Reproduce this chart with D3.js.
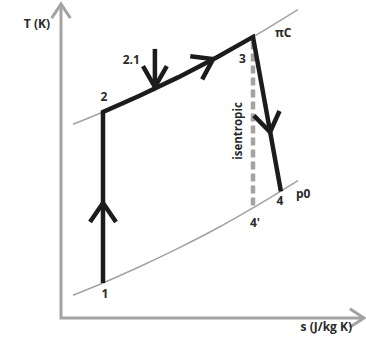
<!DOCTYPE html>
<html>
<head>
<meta charset="utf-8">
<script src="https://cdn.jsdelivr.net/npm/d3@7"></script>
<style>
  html, body { margin: 0; padding: 0; background: #fff; }
  svg { display: block; }
  text { font-family: "Open Sans", "DejaVu Sans", sans-serif; font-weight: 700; fill: #2a2a2a; }
</style>
</head>
<body>
<svg id="chart" width="366" height="340"></svg>
<script>
// Entropy samples shared by the two isobars (arbitrary units)
const isobarS = [4, 14, 26, 39, 52, 64, 79];
// Temperature along the high-pressure isobar (πC) and the ambient isobar (p0)
const isobarHighT = [64.6, 68.7, 74.0, 80.2, 86.9, 93.7, 102.8];
const isobarLowT  = [7.6, 11.7, 17.0, 23.2, 29.9, 36.7, 45.8];

// Cycle states
const stateNames = ["1", "2", "3", "4", "4'"];
const stateS = [14, 14, 64, 73.3, 64];
const stateT = [11.7, 68.7, 93.7, 42.2, 36.7];

// Heat input arrow (2.1): entropy, start and end temperature
const heatS = 31.3;
const heatT = [89.7, 77.0];

// Direction arrows on the process lines (tip positions)
const flowS = [14, 50.7, 69.7];
const flowT = [38.3, 86.3, 62.0];

// Axis titles and isobar labels
const axisTitles = ["T (K)", "s (J/kg K)"];
const isobarNames = ["πC", "p0"];
const isentropeName = "isentropic";

const svg = d3.select("#chart");
const x = d3.scaleLinear().domain([0, 100]).range([61, 361]);
const y = d3.scaleLinear().domain([0, 100]).range([318, 18]);

const grey = "#a3a3a3";
const ink = "#1c1c1c";

const st = stateNames.map((n, i) => ({ name: n, s: stateS[i], T: stateT[i] }));
const byName = Object.fromEntries(st.map(d => [d.name, d]));

// Open chevron with its tip at (px,py), pointing along angle ang
function chevron(px, py, ang, len, half) {
  const a1 = ang + Math.PI - half, a2 = ang + Math.PI + half;
  return `M${px + len * Math.cos(a1)},${py + len * Math.sin(a1)}L${px},${py}L${px + len * Math.cos(a2)},${py + len * Math.sin(a2)}`;
}

// Axes
const sMax = 101, tMax = 104.7;
svg.append("path")
  .attr("d", `M${x(0)},${y(tMax)}L${x(0)},${y(0)}L${x(sMax)},${y(0)}`)
  .attr("fill", "none").attr("stroke", grey).attr("stroke-width", 3)
  .attr("stroke-linejoin", "miter");
svg.append("path")
  .attr("d", chevron(x(0), y(tMax), -Math.PI / 2, 17, 0.58))
  .attr("fill", "none").attr("stroke", grey).attr("stroke-width", 3);
svg.append("path")
  .attr("d", chevron(x(sMax), y(0), 0, 17, 0.58))
  .attr("fill", "none").attr("stroke", grey).attr("stroke-width", 3);

svg.append("text").attr("x", 50).attr("y", 28).attr("text-anchor", "end")
  .attr("font-size", 12).text(axisTitles[0]);
svg.append("text").attr("x", 352).attr("y", 331).attr("text-anchor", "end")
  .attr("font-size", 12).text(axisTitles[1]);

// Isobars
const curve = d3.line().x(d => x(d[0])).y(d => y(d[1])).curve(d3.curveMonotoneX);
[isobarHighT, isobarLowT].forEach(T => {
  svg.append("path")
    .attr("d", curve(isobarS.map((s, i) => [s, T[i]])))
    .attr("fill", "none").attr("stroke", grey).attr("stroke-width", 1.6);
});

// Isentropic expansion 3 -> 4'
svg.append("line")
  .attr("x1", x(byName["3"].s)).attr("y1", y(byName["3"].T - 1.5))
  .attr("x2", x(byName["4'"].s)).attr("y2", y(byName["4'"].T))
  .attr("stroke", grey).attr("stroke-width", 4.5).attr("stroke-dasharray", "8,4");

// Process path 1 -> 2 -> (along πC) -> 3 -> 4
const heatPts = isobarS.map((s, i) => [s, isobarHighT[i]])
  .filter(p => p[0] > byName["2"].s && p[0] < byName["3"].s);
const procPts = [
  [byName["1"].s, byName["1"].T],
  [byName["2"].s, byName["2"].T],
  ...heatPts,
  [byName["3"].s, byName["3"].T],
  [byName["4"].s, byName["4"].T]
];
svg.append("path")
  .attr("d", d3.line().x(d => x(d[0])).y(d => y(d[1]))(procPts))
  .attr("fill", "none").attr("stroke", ink).attr("stroke-width", 4.5)
  .attr("stroke-linejoin", "miter").attr("stroke-miterlimit", 10);

// Flow direction chevrons, oriented along the process segment they sit on
function segmentAngle(s, T) {
  for (let i = 0; i < procPts.length - 1; i++) {
    const a = procPts[i], b = procPts[i + 1];
    const lo = Math.min(a[1], b[1]), hi = Math.max(a[1], b[1]);
    const sLo = Math.min(a[0], b[0]), sHi = Math.max(a[0], b[0]);
    if (s >= sLo - 0.5 && s <= sHi + 0.5 && T >= lo - 0.5 && T <= hi + 0.5) {
      return Math.atan2(y(b[1]) - y(a[1]), x(b[0]) - x(a[0]));
    }
  }
  return 0;
}
flowS.forEach((s, i) => {
  const ang = segmentAngle(s, flowT[i]);
  svg.append("path")
    .attr("d", chevron(x(s), y(flowT[i]), ang, 23, 0.6))
    .attr("fill", "none").attr("stroke", ink).attr("stroke-width", 4.5)
    .attr("stroke-linejoin", "miter");
});

// Heat input arrow 2.1
svg.append("line")
  .attr("x1", x(heatS)).attr("y1", y(heatT[0]))
  .attr("x2", x(heatS)).attr("y2", y(heatT[1]))
  .attr("stroke", ink).attr("stroke-width", 4.5);
svg.append("path")
  .attr("d", chevron(x(heatS), y(heatT[1]), Math.PI / 2, 24, 0.52))
  .attr("fill", "none").attr("stroke", ink).attr("stroke-width", 4.5)
  .attr("stroke-linejoin", "miter");
svg.append("text").attr("x", x(heatS) - 15).attr("y", y(heatT[1]) - 23)
  .attr("text-anchor", "end").attr("font-size", 12).text("2.1");

// State labels
const labelOffset = { "1": [2, 15], "2": [1, -11], "3": [-10.5, 26], "4": [-1, 14], "4'": [2, 19] };
st.forEach(d => {
  const o = labelOffset[d.name];
  svg.append("text")
    .attr("x", x(d.s) + o[0]).attr("y", y(d.T) + o[1])
    .attr("text-anchor", "middle").attr("font-size", 12).text(d.name);
});

// Isobar labels
svg.append("text").attr("x", x(byName["3"].s) + 22).attr("y", y(byName["3"].T) + 0.5)
  .attr("font-size", 12).text(isobarNames[0]);
svg.append("text").attr("x", x(byName["4"].s) + 15).attr("y", y(byName["4"].T) + 7)
  .attr("font-size", 12).text(isobarNames[1]);

// Isentrope label
const isoX = x(byName["3"].s) - 11, isoY = 131;
svg.append("text")
  .attr("transform", `translate(${isoX},${isoY}) rotate(-90)`)
  .attr("text-anchor", "middle").attr("font-size", 11.5).text(isentropeName);
</script>
</body>
</html>
